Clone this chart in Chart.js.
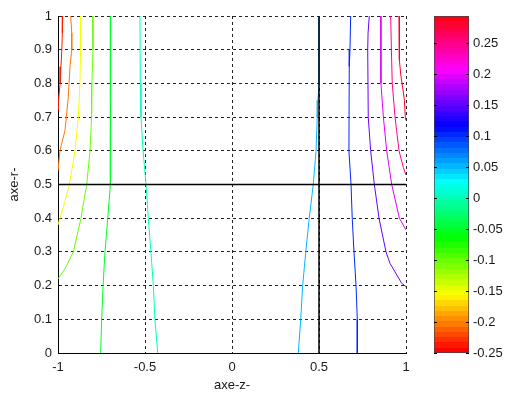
<!DOCTYPE html>
<html>
<head>
<meta charset="utf-8">
<script src="https://cdn.jsdelivr.net/npm/chart.js@4/dist/chart.umd.min.js"></script>
<style>
  body { margin: 0; background: #fff; }
  #wrap { position: relative; width: 507px; height: 396px; }
  #main { position: absolute; left: 0; top: 0; }
  #cbar { position: absolute; left: 420px; top: 0; }
</style>
</head>
<body>
<div id="wrap">
  <canvas id="main" width="507" height="396"></canvas>
  <canvas id="cbar" width="87" height="396"></canvas>
</div>
<script>
// contour levels (value of each iso-line)
const levels = [-0.24, -0.2, -0.15, -0.1, -0.05, 0, 0.05, 0.1, 0.15, 0.2, 0.25, 0.28];

// iso-lines, [z, r] pairs, same order as levels
const contourLines = [
  [[-0.973, 1], [-0.975, 0.95], [-0.978, 0.9], [-0.983, 0.85], [-0.988, 0.8], [-0.995, 0.76], [-1, 0.72]],
  [[-0.927, 1], [-0.921, 0.95], [-0.921, 0.9], [-0.931, 0.85], [-0.941, 0.76], [-0.950, 0.71], [-0.960, 0.66], [-0.989, 0.6], [-1, 0.54]],
  [[-0.870, 1], [-0.870, 0.9], [-0.874, 0.8], [-0.883, 0.7], [-0.902, 0.6], [-0.935, 0.5], [-0.960, 0.45], [-0.989, 0.4], [-1, 0.38]],
  [[-0.801, 1], [-0.799, 0.9], [-0.805, 0.8], [-0.807, 0.7], [-0.816, 0.6], [-0.835, 0.5], [-0.868, 0.4], [-0.912, 0.3], [-0.960, 0.25], [-1, 0.22]],
  [[-0.697, 1], [-0.697, 0.7], [-0.701, 0.5], [-0.714, 0.4], [-0.730, 0.3], [-0.741, 0.2], [-0.749, 0.1], [-0.755, 0]],
  [[-0.529, 1], [-0.527, 0.8], [-0.523, 0.7], [-0.511, 0.6], [-0.494, 0.5], [-0.481, 0.4], [-0.466, 0.3], [-0.452, 0.2], [-0.443, 0.1], [-0.427, 0]],
  [[0.502, 1], [0.500, 0.8], [0.494, 0.75], [0.490, 0.7], [0.483, 0.6], [0.467, 0.5], [0.444, 0.4], [0.424, 0.3], [0.406, 0.2], [0.395, 0.1], [0.381, 0]],
  [[0.682, 1], [0.678, 0.9], [0.674, 0.85], [0.672, 0.6], [0.684, 0.5], [0.691, 0.4], [0.701, 0.3], [0.713, 0.2], [0.720, 0.1], [0.720, 0]],
  [[0.789, 1], [0.782, 0.95], [0.780, 0.9], [0.783, 0.7], [0.797, 0.6], [0.818, 0.5], [0.845, 0.4], [0.885, 0.3], [0.908, 0.266], [0.975, 0.207], [1, 0.197]],
  [[0.855, 1], [0.856, 0.8], [0.870, 0.7], [0.889, 0.6], [0.918, 0.5], [0.962, 0.4], [1, 0.365]],
  [[0.912, 1], [0.916, 0.9], [0.921, 0.8], [0.937, 0.7], [0.946, 0.66], [0.960, 0.6], [0.985, 0.55], [1, 0.528]],
  [[0.960, 1], [0.962, 0.87], [0.970, 0.825], [0.983, 0.78], [0.991, 0.75], [0.996, 0.70], [1, 0.69]]
];

// solid reference lines z = 0.5 and r = 0.5
const refLines = [
  [[0.5, 0], [0.5, 1]],
  [[-1, 0.5], [1, 0.5]]
];

const xTicks = [-1, -0.5, 0, 0.5, 1];
const yTicks = [0, 0.1, 0.2, 0.3, 0.4, 0.5, 0.6, 0.7, 0.8, 0.9, 1];
const cbTicks = [-0.25, -0.2, -0.15, -0.1, -0.05, 0, 0.05, 0.1, 0.15, 0.2, 0.25];
const cbMin = -0.25, cbMax = 0.2935;
const nColors = 64;

const FONT = { family: '"Liberation Sans", Arial, sans-serif', size: 13 };
const TXT = '#1a1a1a';

// matlab style hsv colormap
function hsv(h) {
  const i = Math.floor(h * 6), f = h * 6 - i;
  const q = 1 - f, t = f;
  let r, g, b;
  switch (i % 6) {
    case 0: r = 1; g = t; b = 0; break;
    case 1: r = q; g = 1; b = 0; break;
    case 2: r = 0; g = 1; b = t; break;
    case 3: r = 0; g = q; b = 1; break;
    case 4: r = t; g = 0; b = 1; break;
    default: r = 1; g = 0; b = q;
  }
  return 'rgb(' + Math.round(r * 255) + ',' + Math.round(g * 255) + ',' + Math.round(b * 255) + ')';
}
function levelColor(v) {
  let idx = Math.floor((v - cbMin) / (cbMax - cbMin) * nColors);
  idx = Math.max(0, Math.min(nColors - 1, idx));
  return hsv(idx / nColors);
}

const datasets = [];
refLines.forEach(l => datasets.push({
  data: l.map(p => ({ x: p[0], y: p[1] })),
  borderColor: '#000', borderWidth: 1.5, showLine: true, pointRadius: 0
}));
contourLines.forEach((l, i) => datasets.push({
  data: l.map(p => ({ x: p[0], y: p[1] })),
  borderColor: levelColor(levels[i]), borderWidth: 1, showLine: true, pointRadius: 0
}));

new Chart(document.getElementById('main'), {
  type: 'scatter',
  data: { datasets },
  options: {
    responsive: false,
    animation: false,
    devicePixelRatio: 1,
    layout: { padding: { top: 16, right: 101, left: 0, bottom: 0 } },
    plugins: { legend: { display: false }, tooltip: { enabled: false } },
    scales: {
      x: {
        type: 'linear', min: -1, max: 1,
        afterBuildTicks: s => { s.ticks = xTicks.map(v => ({ value: v })); },
        afterFit: s => { s.height = 43; },
        ticks: { font: FONT, color: TXT, padding: 7, maxRotation: 0, callback: v => String(v) },
        grid: { color: '#222', lineWidth: 1, drawTicks: false },
        border: { display: true, color: '#000', width: 1, dash: [3, 3] },
        title: { display: true, text: 'axe-z-', font: FONT, color: TXT, padding: { top: 0, bottom: 3 } }
      },
      y: {
        type: 'linear', min: 0, max: 1,
        afterBuildTicks: s => { s.ticks = yTicks.map(v => ({ value: v })); },
        afterFit: s => { s.width = 58; },
        ticks: { font: FONT, color: TXT, padding: 6, callback: v => String(v) },
        grid: { color: '#222', lineWidth: 1, drawTicks: false },
        border: { display: true, color: '#000', width: 1, dash: [3, 3] },
        title: { display: true, text: 'axe-r-', font: FONT, color: TXT, padding: { top: 7, bottom: 0 } }
      }
    }
  }
});

// colour bar
function barGradient(ctx) {
  const area = ctx.chart.chartArea;
  if (!area) return levelColor(0);
  const g = ctx.chart.ctx.createLinearGradient(0, area.bottom, 0, area.top);
  for (let i = 0; i < nColors; i++) {
    const c = hsv(i / nColors);
    g.addColorStop(i / nColors, c);
    g.addColorStop((i + 1) / nColors, c);
  }
  return g;
}

const cbTickMarks = {
  id: 'cbTickMarks',
  afterDraw(chart) {
    const { ctx, chartArea: a } = chart;
    const s = chart.scales.y;
    ctx.save();
    ctx.strokeStyle = '#000';
    ctx.lineWidth = 1;
    cbTicks.forEach(v => {
      const y = Math.round(s.getPixelForValue(v)) + 0.5;
      ctx.beginPath();
      ctx.moveTo(a.left, y); ctx.lineTo(a.left + 3, y);
      ctx.moveTo(a.right - 3, y); ctx.lineTo(a.right, y);
      ctx.stroke();
    });
    ctx.restore();
  }
};

new Chart(document.getElementById('cbar'), {
  type: 'bar',
  data: {
    labels: [''],
    datasets: [{
      data: [[cbMin, cbMax]],
      backgroundColor: barGradient,
      borderColor: '#444', borderWidth: 1, borderSkipped: false,
      barPercentage: 1, categoryPercentage: 1
    }]
  },
  options: {
    responsive: false,
    animation: false,
    devicePixelRatio: 1,
    layout: { padding: { top: 16, left: 14, bottom: 43, right: 0 } },
    plugins: { legend: { display: false }, tooltip: { enabled: false } },
    scales: {
      x: { display: false },
      y: {
        position: 'right', min: cbMin, max: cbMax,
        afterBuildTicks: s => { s.ticks = cbTicks.map(v => ({ value: v })); },
        afterFit: s => { s.width = 38; },
        ticks: { font: FONT, color: TXT, padding: 4, callback: v => String(v) },
        grid: { display: false, drawTicks: false },
        border: { display: false }
      }
    }
  },
  plugins: [cbTickMarks]
});
</script>
</body>
</html>
